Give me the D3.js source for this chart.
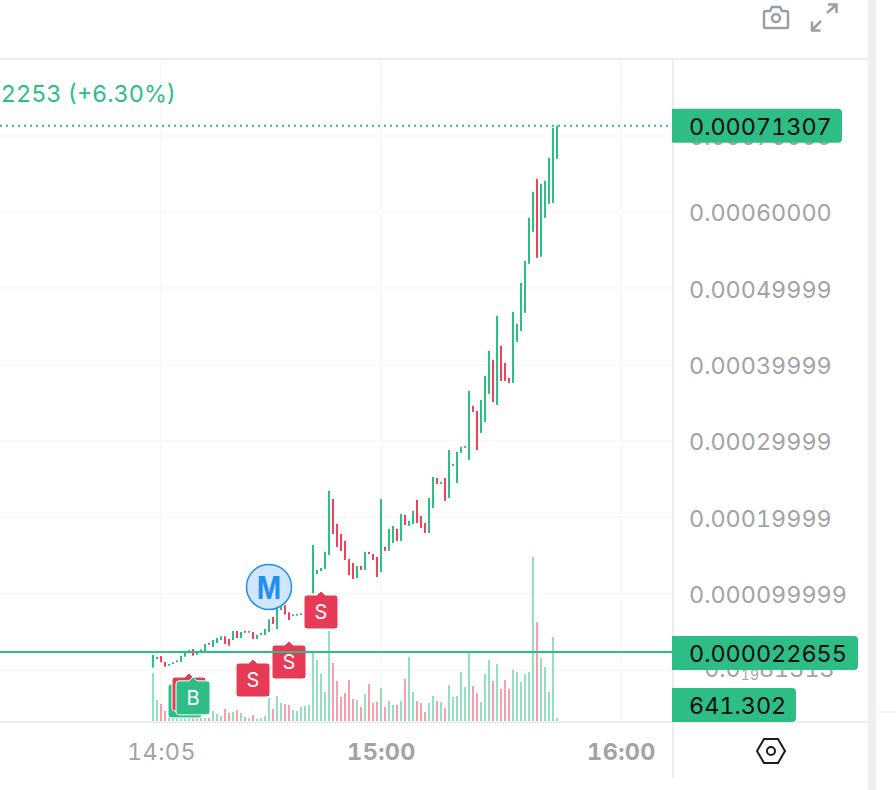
<!DOCTYPE html>
<html>
<head>
<meta charset="utf-8">
<script src="https://cdn.jsdelivr.net/npm/d3@7"></script>
<style>
    html, body { margin: 0; padding: 0; background: #fff; overflow: hidden; }
    svg { display: block; }
    text { font-family: Inter, Roboto, sans-serif; font-variant-numeric: tabular-nums; }
</style>
</head>
<body>
<div id="chartContainer"></div>
<script>
// prices are in millionths (713.07 = 0.00071307), one candle per minute from 14:03
const opens = [3.0,14.4,18.3,10.5,5.6,7.9,10.1,10.5,17.4,23.6,27.5,19.7,22.3,24.5,35.4,30.1,35.4,39.3,44.2,40.6,
    39.3,51.1,41.9,51.1,48.9,49.8,40.6,45.9,45.9,49.8,69.5,53.7,78.6,84.8,75.6,70.8,71.2,72.1,73.4,74.7,
    100.5,125.8,129.7,132.4,150.7,224.1,191.3,178.2,169.1,145.5,140.2,120.6,136.3,131.1,154.7,152.0,148.1,128.4,161.2,156.0,
    166.4,184.8,169.1,203.1,188.7,191.3,222.8,201.8,192.7,179.6,212.3,251.6,243.8,251.6,225.4,267.4,245.1,284.4,291.0,275.2,
    346.0,339.4,310.6,325.0,361.7,406.3,347.3,424.6,402.4,382.7,376.1,429.9,444.3,467.9,532.1,574.0,643.5,541.3,592.4,610.7,
    612.0,669.7];
const closes = [19.7,17.0,10.1,4.3,7.9,10.1,12.7,18.7,23.2,26.2,18.7,24.9,27.1,34.1,33.2,39.3,41.9,44.2,34.1,31.8,
    51.1,41.9,49.8,48.9,51.1,40.6,45.9,48.5,53.7,66.4,60.3,80.9,83.0,72.5,65.5,73.0,73.4,74.3,76.0,78.6,
    163.8,131.1,133.7,154.7,234.6,178.2,161.2,156.0,144.2,124.5,119.3,136.3,131.1,154.7,152.0,144.2,121.9,224.1,156.0,184.8,
    188.7,169.1,204.5,190.0,195.3,208.4,192.7,186.1,179.6,225.4,252.9,243.8,246.4,221.5,288.3,270.0,285.7,292.3,293.6,365.7,
    338.1,288.3,353.9,385.3,418.1,351.2,464.0,378.8,378.8,376.1,469.2,453.5,507.2,536.0,592.4,626.5,540.0,637.0,640.9,671.0,
    710.3,713.07];
// volume in thousands
const volumes = [10.27,4.49,3.64,2.14,0.64,0.64,0.64,0.64,0.64,0.64,0.64,0.64,0.64,0.64,0.64,2.14,1.50,1.07,2.57,1.71,
    1.93,2.35,1.71,0.86,0.64,1.28,0.43,0.64,1.07,4.92,2.57,5.35,3.85,3.64,3.42,2.35,2.14,3.00,3.21,3.42,
    14.55,13.05,10.06,6.21,19.26,12.41,8.56,5.14,5.99,8.77,4.71,4.49,3.00,5.78,7.92,3.85,4.07,7.06,3.00,4.28,
    3.42,3.42,4.28,8.99,13.70,6.21,4.28,3.85,1.93,3.85,5.35,4.28,4.07,2.78,7.70,5.14,5.35,10.49,7.28,14.77,
    7.49,5.99,4.07,10.06,13.05,8.56,12.20,6.85,8.77,6.85,10.91,10.49,8.35,10.06,10.49,35.10,21.19,13.48,11.56,6.21,
    17.98,0.64];

const priceTicks = [700, 600, 499.99, 399.99, 299.99, 199.99, 99.999, 0];
const priceLabels = ["0.00070000", "0.00060000", "0.00049999", "0.00039999", "0.00029999", "0.00019999", "0.000099999", ""];
const timeTicks = ["14:05", "15:00", "16:00"];
const boldTimes = ["15:00", "16:00"];

const lastPrice = 713.07;
const markPrice = 22.655;
const lastPriceLabel = "0.00071307";
const markPriceLabel = "0.000022655";
const volumeLabel = "641.302";
const changeLabel = "2253 (+6.30%)";

// markers: candle index + price of the tip
const markerLabels = ["B", "S", "B", "S", "S", "S"];
const markerIndex = [8, 9, 10, 25, 34, 42];
const markerPrice = [-13, -4, -9, 14.4, 38, 103.5];
const moonIndex = 29;
const moonPrice = 108.8;

const GREEN = "#2ebd85";
const RED = "#f0405b";
const BADGE_RED = "#e63a56";
const GRID = "#f9f9f9";
const LINE = "#ededed";
const LABEL = "#a3a3a3";
const FONT_SIZE = 23.4;

function init() {
    const w = 896, h = 790;
    const axisX = 673, top = 59, bottom = 722;

    const svg = d3.select("#chartContainer").append("svg")
        .attr("width", w)
        .attr("height", h);

    const parseTime = d3.utcParse("%H:%M");
    const startTime = parseTime("14:03");
    const timeOf = i => d3.utcMinute.offset(startTime, i);

    const x = d3.scaleUtc()
        .domain([parseTime("15:00"), parseTime("16:00")])
        .range([381, 621]);
    const y = d3.scaleLinear()
        .domain([0, 600])
        .range([670, 212]);
    const yVol = d3.scaleLinear()
        .domain([0, d3.max(volumes)])
        .range([721, 557]);

    const isUp = i => closes[i] >= opens[i];

    // Grid
    const grid = svg.append("g").attr("stroke", GRID).attr("stroke-width", 2);
    grid.selectAll("line.h")
        .data(priceTicks)
        .enter().append("line")
        .attr("class", "h")
        .attr("x1", 0).attr("x2", axisX)
        .attr("y1", d => y(d)).attr("y2", d => y(d));
    grid.selectAll("line.v")
        .data(timeTicks)
        .enter().append("line")
        .attr("class", "v")
        .attr("x1", d => x(parseTime(d))).attr("x2", d => x(parseTime(d)))
        .attr("y1", top).attr("y2", bottom);

    // Volume bars
    svg.append("g").selectAll("rect")
        .data(volumes)
        .enter().append("rect")
        .attr("x", (d, i) => x(timeOf(i)) - 1)
        .attr("y", d => yVol(d))
        .attr("width", 2)
        .attr("height", d => yVol(0) - yVol(d))
        .attr("fill", (d, i) => isUp(i) ? GREEN : RED)
        .attr("opacity", 0.5);

    // Candles
    svg.append("g").selectAll("rect")
        .data(opens)
        .enter().append("rect")
        .attr("x", (d, i) => x(timeOf(i)) - 1)
        .attr("y", (d, i) => y(Math.max(opens[i], closes[i])))
        .attr("width", 2)
        .attr("height", (d, i) => Math.abs(y(opens[i]) - y(closes[i])))
        .attr("fill", (d, i) => isUp(i) ? GREEN : RED);

    // Last price line
    svg.append("line")
        .attr("x1", 0).attr("x2", axisX)
        .attr("y1", y(lastPrice)).attr("y2", y(lastPrice))
        .attr("stroke", GREEN)
        .attr("stroke-width", 2)
        .attr("stroke-dasharray", "2 4");

    // Trade markers
    const badge = svg.append("g").selectAll("g")
        .data(markerLabels)
        .enter().append("g")
        .attr("transform", (d, i) => `translate(${x(timeOf(markerIndex[i]))}, ${y(markerPrice[i])})`);
    badge.append("path")
        .attr("d", "M-14,4 L-4,4 L0,0 L4,4 L14,4 Q17,4 17,7 L17,35 Q17,38 14,38 L-14,38 Q-17,38 -17,35 L-17,7 Q-17,4 -14,4 Z")
        .attr("fill", d => d === "B" ? GREEN : BADGE_RED)
        .attr("stroke", "#fff")
        .attr("stroke-width", 1);
    badge.append("text")
        .attr("y", 28)
        .attr("text-anchor", "middle")
        .attr("font-size", 20)
        .attr("fill", "#fff")
        .text(d => d);

    // Mark price line
    svg.append("line")
        .attr("x1", 0).attr("x2", axisX)
        .attr("y1", Math.floor(y(markPrice))).attr("y2", Math.floor(y(markPrice)))
        .attr("stroke", GREEN)
        .attr("stroke-width", 2);

    // Moon marker
    const moon = svg.append("g")
        .attr("transform", `translate(${x(timeOf(moonIndex))}, ${y(moonPrice)})`);
    moon.append("circle")
        .attr("r", 22.5)
        .attr("fill", "#cfe6fd")
        .attr("stroke", "#1f8ef1")
        .attr("stroke-width", 1.5);
    moon.append("text")
        .attr("y", 12)
        .attr("text-anchor", "middle")
        .attr("font-size", 31)
        .attr("font-weight", 700)
        .attr("textLength", 24)
        .attr("lengthAdjust", "spacingAndGlyphs")
        .attr("fill", "#1f8ef1")
        .text("M");

    // Change text, cut by the left edge
    svg.append("text")
        .attr("x", 176)
        .attr("y", 102)
        .attr("text-anchor", "end")
        .attr("font-size", FONT_SIZE)
        .attr("fill", GREEN)
        .text(changeLabel);

    // Price axis
    const yAxis = svg.append("g")
        .attr("transform", `translate(${axisX}, 0)`)
        .attr("font-family", null)
        .call(d3.axisRight(y)
            .tickValues(priceTicks)
            .tickSize(0)
            .tickPadding(16)
            .tickFormat((d, i) => priceLabels[i]));
    yAxis.select(".domain").remove();
    yAxis.selectAll("text")
        .attr("font-size", FONT_SIZE)
        .attr("dy", "0.38em")
        .attr("fill", LABEL);

    // Lowest tick has a subscript zero count, sits behind the mark price tag
    const lowTick = yAxis.selectAll("text").filter(d => d === 0).attr("dy", "0.28em");
    lowTick.append("tspan").text("-0.0");
    lowTick.append("tspan").attr("font-size", 14).attr("dy", 3).text("19");
    lowTick.append("tspan").attr("dy", -3).text("81313");

    // Time axis
    const xAxis = svg.append("g")
        .attr("transform", `translate(0, ${bottom})`)
        .call(d3.axisBottom(x)
            .tickValues(timeTicks.map(parseTime))
            .tickSize(0)
            .tickPadding(21)
            .tickFormat(d3.utcFormat("%H:%M")));
    xAxis.select(".domain").remove();
    xAxis.selectAll("text")
        .attr("font-size", FONT_SIZE)
        .attr("letter-spacing", 0.4)
        .attr("fill", LABEL)
        .attr("font-weight", (d, i) => boldTimes.includes(timeTicks[i]) ? 700 : 400);

    // Panel borders
    const borders = svg.append("g").attr("stroke", LINE).attr("stroke-width", 2);
    borders.append("line").attr("x1", 0).attr("x2", 868).attr("y1", top).attr("y2", top);
    borders.append("line").attr("x1", 0).attr("x2", 868).attr("y1", bottom).attr("y2", bottom);
    borders.append("line").attr("x1", axisX).attr("x2", axisX).attr("y1", top).attr("y2", 778);
    svg.append("rect").attr("x", 868).attr("y", 0).attr("width", 8).attr("height", h).attr("fill", "#f0f0f0");
    svg.append("line").attr("x1", 876).attr("x2", w).attr("y1", 712).attr("y2", 712).attr("stroke", "#f0f0f0");

    // Tags on the axis
    function tag(top, width, label) {
        const g = svg.append("g").attr("transform", `translate(${axisX - 1}, ${top})`);
        g.append("path")
            .attr("d", `M0,0 H${width - 4} Q${width},0 ${width},4 V30 Q${width},34 ${width - 4},34 H0 Z`)
            .attr("fill", GREEN);
        g.append("text")
            .attr("x", 17)
            .attr("y", 26)
            .attr("font-size", FONT_SIZE)
            .attr("fill", "#0b0e11")
            .text(label);
    }
    tag(y(lastPrice) - 17, 170, lastPriceLabel);
    tag(Math.floor(y(markPrice)) - 16, 186, markPriceLabel);
    tag(688, 124, volumeLabel);

    // Toolbar icons
    const camera = svg.append("g")
        .attr("transform", "translate(763, 6)")
        .attr("fill", "none")
        .attr("stroke", "#9aa0a8")
        .attr("stroke-width", 2.5);
    camera.append("path")
        .attr("d", "M1,7 Q1,5 3,5 L7,5 L9,1 L17,1 L19,5 L23,5 Q25,5 25,7 L25,21 Q25,22 24,22 L2,22 Q1,22 1,21 Z");
    camera.append("circle").attr("cx", 13).attr("cy", 12).attr("r", 4);

    const expand = svg.append("g")
        .attr("transform", "translate(810, 3)")
        .attr("fill", "none")
        .attr("stroke", "#9aa0a8")
        .attr("stroke-width", 2.5);
    expand.append("path").attr("d", "M17,10 L26,2 M18,1.5 L26.5,1.5 L26.5,10");
    expand.append("path").attr("d", "M11,18 L2,27 M2,18.5 L2,27.5 L10.5,27.5");

    const settings = svg.append("g")
        .attr("transform", "translate(771, 751)")
        .attr("fill", "none")
        .attr("stroke", "#1a1d26")
        .attr("stroke-width", 2);
    settings.append("path").attr("d", "M-14,0 L-7,-12 L7,-12 L14,0 L7,12 L-7,12 Z");
    settings.append("circle").attr("r", 4);
}
window.onload = init;
</script>
</body>
</html>
